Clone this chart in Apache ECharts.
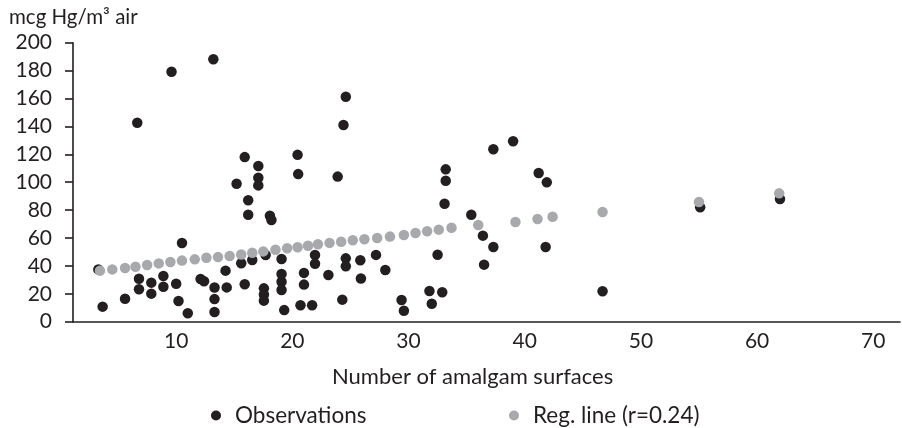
<!DOCTYPE html>
<html>
<head>
<meta charset="utf-8">
<script src="https://cdn.jsdelivr.net/npm/echarts@6/dist/echarts.min.js"></script>
<style>
html,body{margin:0;padding:0;background:#fff;}
#chart{width:902px;height:428px;}
</style>
</head>
<body>
<div id="chart"></div>
<script>
const yAxisTitle = 'mcg Hg/m³ air';
const xAxisTitle = 'Number of amalgam surfaces';
const obsName = 'Observations';
const regName = 'Reg. line (r=0.24)';
const xTickLabels = [10, 20, 30, 40, 50, 60, 70];

const obsX = [3.3,3.67,5.6,6.65,6.8,6.8,7.86,7.86,8.9,8.9,9.6,10.0,10.2,10.5,11.0,12.1,12.4,13.2,13.3,13.3,13.3,14.25,14.35,15.2,15.6,15.9,15.9,16.2,16.2,16.55,17.07,17.07,17.07,17.7,17.55,17.55,17.55,18.07,18.2,19.07,19.07,19.07,19.07,19.3,20.45,20.5,20.7,21.0,21.0,21.7,21.95,21.95,23.1,23.9,24.3,24.4,24.6,24.6,24.6,25.85,25.9,27.2,28.0,29.4,29.6,31.8,32.0,32.5,32.9,33.2,33.2,33.1,35.4,36.4,36.5,37.3,37.3,39.0,41.2,41.9,41.8,46.7,55.1,61.97];
const obsY = [37.5,10.8,16.5,142.6,30.8,23.2,28.0,20.1,32.8,25.1,179.2,27.2,14.8,56.4,6.0,30.6,29.0,188.1,24.5,16.2,7.0,36.6,24.6,98.9,41.9,118.0,26.8,87.1,76.7,44.2,111.6,103.2,97.7,47.8,23.9,19.5,15.1,76.0,72.9,45.0,34.2,28.7,22.7,8.3,119.6,105.8,11.8,35.0,26.6,11.8,47.8,41.6,33.5,104.0,15.8,141.0,161.3,45.4,39.8,44.0,31.0,47.9,37.0,15.6,7.9,22.0,12.9,48.0,21.1,109.2,101.1,84.6,76.7,61.7,40.9,53.5,123.6,129.3,106.6,99.9,53.5,21.8,82.0,88.0];

const regX = [3.44,4.5,5.6,6.5,7.5,8.5,9.5,10.5,11.6,12.6,13.6,14.6,15.6,16.55,17.5,18.55,19.55,20.45,21.35,22.2,23.2,24.2,25.2,26.2,27.3,28.4,29.6,30.6,31.6,32.6,33.7,36.0,39.2,41.1,42.4,46.7,55.0,61.9];
const regY = [36.6,37.5,38.5,39.4,40.6,41.8,42.8,43.8,44.7,45.9,46.3,47.1,48.2,49.4,50.4,51.6,52.6,53.4,54.5,55.5,56.5,57.3,58.4,59.1,60.0,61.0,62.2,63.6,64.8,66.0,67.4,69.3,71.5,73.6,75.2,78.6,85.8,92.0];

const ink = '#231f20';
const grey = '#a7a9ac';
const font = 'Lato, "Open Sans", sans-serif';

const chart = echarts.init(document.getElementById('chart'), null, {renderer: 'canvas'});
chart.setOption({
  animation: false,
  backgroundColor: '#fff',
  textStyle: {fontFamily: font, color: ink},
  title: [
    {text: yAxisTitle, left: 4, top: 2, textStyle: {fontFamily: font, fontSize: 20.5, fontWeight: 'normal', color: ink}},
    {text: xAxisTitle, left: 327, top: 361, textStyle: {fontFamily: font, fontSize: 22, fontWeight: 'normal', color: ink}}
  ],
  legend: [
    {data: [obsName], left: 206, top: 399, icon: 'circle', itemWidth: 28, itemHeight: 10,
     textStyle: {fontFamily: font, fontSize: 22.5, color: ink}},
    {data: [regName], left: 504, top: 399, icon: 'circle', itemWidth: 28, itemHeight: 10,
     textStyle: {fontFamily: font, fontSize: 22.5, color: ink}}
  ],
  grid: {left: 73, right: 2, top: 42.7, bottom: 106.3, containLabel: false},
  xAxis: {
    type: 'value', min: 1.12, max: 72.3,
    axisLine: {show: true, lineStyle: {color: ink, width: 1.6}},
    axisTick: {show: false},
    splitLine: {show: false},
    axisLabel: {customValues: xTickLabels, fontFamily: font, fontSize: 21, color: ink, margin: 9}
  },
  yAxis: {
    type: 'value', min: 0, max: 200, interval: 20,
    axisLine: {show: true, lineStyle: {color: ink, width: 1.6}},
    axisTick: {show: true, length: 8, inside: false, lineStyle: {color: ink, width: 1.6}},
    splitLine: {show: false},
    axisLabel: {fontFamily: font, fontSize: 21, color: ink, margin: 21}
  },
  series: [
    {name: obsName, type: 'scatter', symbol: 'circle', symbolSize: 10.5,
     itemStyle: {color: ink, opacity: 1},
     data: obsX.map((x, i) => [x, obsY[i]])},
    {name: regName, type: 'scatter', symbol: 'circle', symbolSize: 10.5,
     itemStyle: {color: grey, opacity: 1},
     data: regX.map((x, i) => [x, regY[i]])}
  ]
});
</script>
</body>
</html>
